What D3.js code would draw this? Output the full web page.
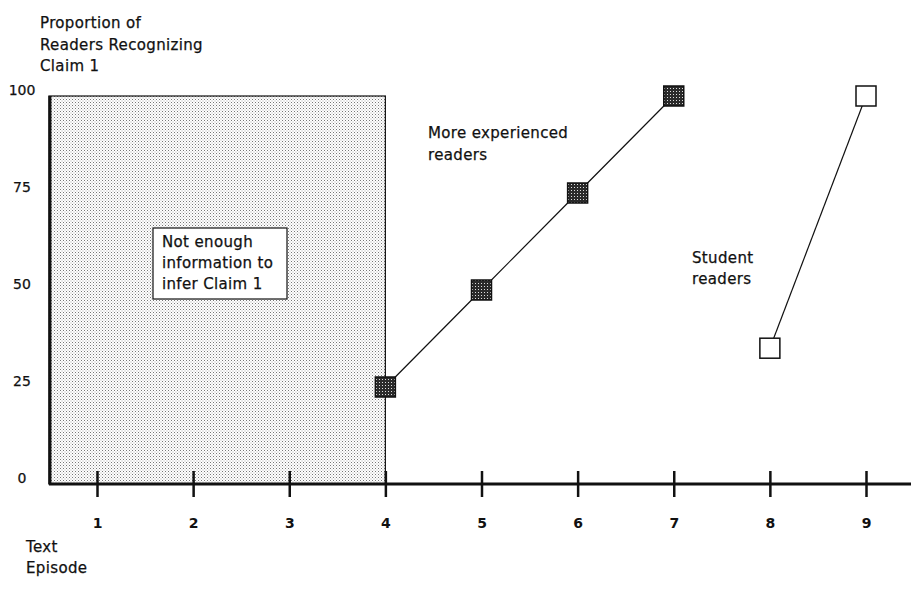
<!DOCTYPE html>
<html>
<head>
<meta charset="utf-8">
<script src="https://cdn.jsdelivr.net/npm/d3@7"></script>
<style>
  html, body { margin: 0; padding: 0; background: #fff; }
  svg { display: block; }
  text { font-family: "DejaVu Sans", sans-serif; fill: #111; }
  .lbl { font-size: 15px; letter-spacing: 0.35px; stroke: #111; stroke-width: 0.25px; }
</style>
</head>
<body>
<svg id="chart" width="911" height="593"></svg>
<script>
// ---- data ----
const episodes = [1, 2, 3, 4, 5, 6, 7, 8, 9];
const yTickValues = [0, 25, 50, 75, 100];
const experiencedEpisodes = [4, 5, 6, 7];
const experiencedValues = [25, 50, 75, 100];
const studentEpisodes = [8, 9];
const studentValues = [35, 100];
const shadedEpisodeRange = [0.5, 4];
const shadedValueRange = [0, 100];
const titleLines = ["Proportion of", "Readers Recognizing", "Claim 1"];
const xTitleLines = ["Text", "Episode"];
const boxLines = ["Not enough", "information to", "infer Claim 1"];
const experiencedLabel = ["More experienced", "readers"];
const studentLabel = ["Student", "readers"];

const svg = d3.select("#chart");
const x = d3.scaleLinear().domain([1, 9]).range([97, 866]);
const y = d3.scaleLinear().domain([0, 100]).range([484, 96]);

// patterns
const defs = svg.append("defs");
const light = defs.append("pattern").attr("id", "lightdots")
  .attr("width", 3).attr("height", 3).attr("patternUnits", "userSpaceOnUse");
light.append("rect").attr("width", 3).attr("height", 3).attr("fill", "#fff");
light.append("rect").attr("x", 0).attr("y", 0).attr("width", 1).attr("height", 1).attr("fill", "#777");
light.append("rect").attr("x", 1.5).attr("y", 1.5).attr("width", 1).attr("height", 1).attr("fill", "#aaa");

const dark = defs.append("pattern").attr("id", "darkdots")
  .attr("width", 3).attr("height", 3).attr("patternUnits", "userSpaceOnUse");
dark.append("rect").attr("width", 3).attr("height", 3).attr("fill", "#2a2a2a");
dark.append("rect").attr("x", 1).attr("y", 1).attr("width", 1).attr("height", 1).attr("fill", "#ddd");

// shaded region
const sx0 = x(shadedEpisodeRange[0]), sx1 = x(shadedEpisodeRange[1]);
const sy0 = y(shadedValueRange[1]), sy1 = y(shadedValueRange[0]);
svg.append("rect")
  .attr("x", sx0).attr("y", sy0)
  .attr("width", sx1 - sx0).attr("height", sy1 - sy0)
  .attr("fill", "url(#lightdots)")
  .attr("stroke", "#111").attr("stroke-width", 1.2);
svg.append("line")
  .attr("x1", sx0 + 1).attr("x2", sx0 + 1).attr("y1", sy0).attr("y2", sy1)
  .attr("stroke", "#111").attr("stroke-width", 3);

// label box inside shaded region
const bx = 153, by = 228, bw = 134, bh = 71;
svg.append("rect").attr("x", bx).attr("y", by).attr("width", bw).attr("height", bh)
  .attr("fill", "#fff").attr("stroke", "#111").attr("stroke-width", 1.2);
svg.append("g").selectAll("text").data(boxLines).join("text")
  .attr("class", "lbl")
  .attr("x", 162).attr("y", (d, i) => 247 + i * 21)
  .text(d => d);

// x axis
svg.append("line")
  .attr("x1", sx0).attr("x2", 911).attr("y1", y(0)).attr("y2", y(0))
  .attr("stroke", "#111").attr("stroke-width", 3);
const xAxis = d3.axisBottom(x).tickValues(episodes).tickSize(13).tickPadding(21)
  .tickFormat(d3.format("d"));
const gx = svg.append("g").attr("transform", `translate(0,${y(0)})`).call(xAxis);
gx.select(".domain").remove();
gx.selectAll(".tick line").attr("y1", -13).attr("y2", 13)
  .attr("stroke", "#111").attr("stroke-width", 2.5);
gx.selectAll(".tick text")
  .attr("font-family", "DejaVu Sans, sans-serif")
  .attr("font-size", 14).attr("font-weight", "bold").attr("fill", "#111");

// y labels (no ticks)
const yAxis = d3.axisLeft(y).tickValues(yTickValues).tickSize(0).tickPadding(0);
const gy = svg.append("g").attr("transform", "translate(22,-6)").call(yAxis);
gy.select(".domain").remove();
gy.selectAll(".tick text")
  .attr("text-anchor", "middle")
  .attr("font-family", "DejaVu Sans, sans-serif")
  .attr("font-size", 14).attr("fill", "#111")
  .attr("stroke", "#111").attr("stroke-width", 0.25);

// lines
const line = d3.line().x(d => x(d[0])).y(d => y(d[1]));
const expData = experiencedEpisodes.map((e, i) => [e, experiencedValues[i]]);
const stuData = studentEpisodes.map((e, i) => [e, studentValues[i]]);
svg.append("path").datum(expData).attr("d", line)
  .attr("fill", "none").attr("stroke", "#111").attr("stroke-width", 1.2);
svg.append("path").datum(stuData).attr("d", line)
  .attr("fill", "none").attr("stroke", "#111").attr("stroke-width", 1.2);

// markers
const ms = 20;
svg.append("g").selectAll("rect").data(expData).join("rect")
  .attr("x", d => x(d[0]) - ms / 2).attr("y", d => y(d[1]) - ms / 2)
  .attr("width", ms).attr("height", ms)
  .attr("fill", "url(#darkdots)").attr("stroke", "#111").attr("stroke-width", 1.5);
svg.append("g").selectAll("rect").data(stuData).join("rect")
  .attr("x", d => x(d[0]) - ms / 2).attr("y", d => y(d[1]) - ms / 2)
  .attr("width", ms).attr("height", ms)
  .attr("fill", "#fff").attr("stroke", "#111").attr("stroke-width", 1.5);

// titles & labels
svg.append("g").selectAll("text").data(titleLines).join("text")
  .attr("class", "lbl")
  .attr("x", 40).attr("y", (d, i) => 28 + i * 21.5)
  .text(d => d);
svg.append("g").selectAll("text").data(xTitleLines).join("text")
  .attr("class", "lbl")
  .attr("x", 26).attr("y", (d, i) => 552 + i * 20.5)
  .text(d => d);
svg.append("g").selectAll("text").data(experiencedLabel).join("text")
  .attr("class", "lbl")
  .attr("x", 428).attr("y", (d, i) => 138 + i * 22)
  .text(d => d);
svg.append("g").selectAll("text").data(studentLabel).join("text")
  .attr("class", "lbl")
  .attr("x", 692).attr("y", (d, i) => 263 + i * 21)
  .text(d => d);
</script>
</body>
</html>
